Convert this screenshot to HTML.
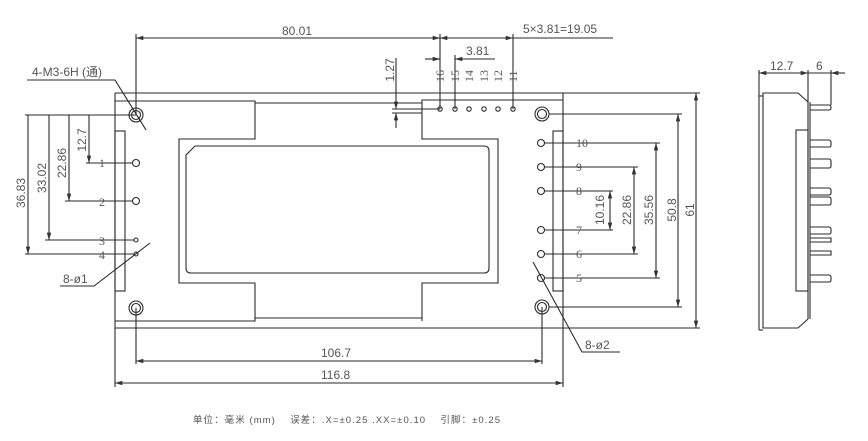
<!DOCTYPE html>
<html><head><meta charset="utf-8"><style>
html,body{margin:0;padding:0;background:#fff;}
svg{display:block;}
text{font-family:"Liberation Sans","Noto Sans CJK SC",sans-serif;fill:#555;}
.s{font-family:"Liberation Serif",serif;fill:#555;}
</style></head><body>
<svg width="868" height="441" viewBox="0 0 868 441" xmlns="http://www.w3.org/2000/svg">
<defs>
<marker id="a" viewBox="0 0 10 6" refX="10" refY="3" markerWidth="7" markerHeight="4" orient="auto-start-reverse"><path d="M0,0 L10,3 L0,6 z" fill="#333"/></marker>
</defs>
<g stroke="#2a2a2a" stroke-width="1.1" fill="none">
<line x1="115" y1="93" x2="563" y2="93"/>
<line x1="115" y1="328" x2="563" y2="328"/>
<line x1="115" y1="93" x2="115" y2="387"/>
<line x1="563" y1="93" x2="563" y2="387"/>
<path d="M115,101 H255 V139 H179 V283 H255 V321 H115"/>
<path d="M422,321 V283 H498 V139 H422 V100 H563"/>
<line x1="255" y1="103" x2="422" y2="103"/>
<line x1="255" y1="318" x2="422" y2="318"/>
<path d="M195,146 H484 Q489,146 489,151 V268 Q489,273 484,273 H191 Q186,273 186,268 V155 Z"/>
<rect x="115" y="131" width="10" height="160"/>
<rect x="553" y="131" width="10" height="160"/>
<circle cx="136" cy="115" r="7"/><circle cx="136" cy="115" r="4.5"/>
<circle cx="136" cy="308" r="7"/><circle cx="136" cy="308" r="4.5"/>
<circle cx="542" cy="114" r="7"/><circle cx="542" cy="114" r="4.5"/>
<circle cx="542" cy="307" r="7"/><circle cx="542" cy="307" r="4.5"/>
<circle cx="136" cy="163" r="3.5"/><circle cx="136" cy="201" r="3.5"/>
<circle cx="136" cy="240" r="2"/><circle cx="136" cy="254" r="2"/>
<line x1="86" y1="163" x2="133" y2="163"/>
<line x1="65" y1="201" x2="133" y2="201"/>
<line x1="45" y1="240" x2="134" y2="240"/>
<line x1="25" y1="254" x2="134" y2="254"/>
<line x1="25" y1="115" x2="136" y2="115"/>
<line x1="89" y1="115" x2="89" y2="163" marker-end="url(#a)"/>
<line x1="69" y1="115" x2="69" y2="201" marker-end="url(#a)"/>
<line x1="49" y1="115" x2="49" y2="240" marker-end="url(#a)"/>
<line x1="28" y1="115" x2="28" y2="254" marker-end="url(#a)"/>
<circle cx="440" cy="109" r="2.2"/><circle cx="455" cy="109" r="2.2"/><circle cx="469" cy="109" r="2.2"/>
<circle cx="484" cy="109" r="2.2"/><circle cx="498" cy="109" r="2.2"/><circle cx="513" cy="109" r="2.2"/>
<line x1="136" y1="34" x2="136" y2="115"/>
<line x1="440" y1="34" x2="440" y2="109"/>
<line x1="455" y1="55" x2="455" y2="109"/>
<line x1="513" y1="34" x2="513" y2="109"/>
<line x1="136" y1="38" x2="440" y2="38" marker-start="url(#a)" marker-end="url(#a)"/>
<line x1="440" y1="38" x2="513" y2="38" marker-start="url(#a)" marker-end="url(#a)"/>
<line x1="513" y1="38" x2="613" y2="38"/>
<line x1="425" y1="59" x2="440" y2="59" marker-end="url(#a)"/>
<line x1="495" y1="59" x2="455" y2="59" marker-end="url(#a)"/>
<line x1="392" y1="109" x2="440" y2="109"/>
<line x1="392" y1="113" x2="422" y2="113"/>
<line x1="396" y1="58" x2="396" y2="109" marker-end="url(#a)"/>
<line x1="396" y1="128" x2="396" y2="113" marker-end="url(#a)"/>
<circle cx="541" cy="143" r="3.5"/><circle cx="541" cy="167" r="3.5"/><circle cx="541" cy="191" r="3.5"/>
<circle cx="541" cy="230" r="3.5"/><circle cx="541" cy="254" r="3.5"/><circle cx="541" cy="278" r="3.5"/>
<line x1="544" y1="143" x2="660" y2="143"/>
<line x1="544" y1="167" x2="638" y2="167"/>
<line x1="544" y1="191" x2="613" y2="191"/>
<line x1="544" y1="230" x2="613" y2="230"/>
<line x1="544" y1="254" x2="638" y2="254"/>
<line x1="544" y1="278" x2="660" y2="278"/>
<line x1="549" y1="114" x2="682" y2="114"/>
<line x1="549" y1="307" x2="682" y2="307"/>
<line x1="563" y1="93" x2="700" y2="93"/>
<line x1="563" y1="328" x2="700" y2="328"/>
<line x1="610" y1="191" x2="610" y2="230" marker-start="url(#a)" marker-end="url(#a)"/>
<line x1="634" y1="167" x2="634" y2="254" marker-start="url(#a)" marker-end="url(#a)"/>
<line x1="656" y1="143" x2="656" y2="278" marker-start="url(#a)" marker-end="url(#a)"/>
<line x1="678" y1="114" x2="678" y2="307" marker-start="url(#a)" marker-end="url(#a)"/>
<line x1="696" y1="93" x2="696" y2="328" marker-start="url(#a)" marker-end="url(#a)"/>
<line x1="136" y1="308" x2="136" y2="364"/>
<line x1="542" y1="307" x2="542" y2="364"/>
<line x1="136" y1="361" x2="542" y2="361" marker-start="url(#a)" marker-end="url(#a)"/>
<line x1="115" y1="383" x2="563" y2="383" marker-start="url(#a)" marker-end="url(#a)"/>
<path d="M27,80 H115 L146,130"/>
<path d="M60,286 H94 L150,243"/>
<path d="M620,352 H582 L533,262"/>
<line x1="759" y1="70" x2="759" y2="330"/>
<path d="M763,93 H798 L808,102 V319 L798,328 H763 Z"/>
<line x1="759" y1="96" x2="763" y2="96"/>
<line x1="759" y1="330" x2="763" y2="330"/>
<line x1="810" y1="102" x2="810" y2="319"/>
<rect x="796" y="130" width="12" height="161"/>
<line x1="808" y1="70" x2="808" y2="102"/>
<line x1="831" y1="70" x2="831" y2="105"/>
<line x1="759" y1="73" x2="808" y2="73" marker-start="url(#a)" marker-end="url(#a)"/>
<line x1="808" y1="73" x2="831" y2="73"/>
<line x1="845" y1="73" x2="831" y2="73" marker-end="url(#a)"/>
<path d="M810,105 H829 Q831,105 831,107.5 Q831,110 829,110 H810"/>
<path d="M810,140 H829 Q831,140 831,142.5 V145 Q831,147 829,147 H810"/>
<path d="M810,159 H829 Q831,159 831,161.5 V166 Q831,168 829,168 H810"/>
<path d="M810,188 H829 Q831,188 831,190.5 V193 Q831,195 829,195 H810"/>
<path d="M810,197 H829 Q831,197 831,199.5 V203 Q831,205 829,205 H810"/>
<path d="M810,227 H829 Q831,227 831,229.5 V232 Q831,234 829,234 H810"/>
<path d="M810,238 H831 V242 H810"/>
<path d="M810,251 H831 V255 H810"/>
<path d="M810,275 H829 Q831,275 831,277.5 V280 Q831,282 829,282 H810"/>
</g>
<g font-size="12">
<text x="282" y="35">80.01</text>
<text x="523" y="33">5×3.81=19.05</text>
<text x="466" y="55">3.81</text>
<text x="32" y="76">4-M3-6H (通)</text>
<text x="63" y="283">8-ø1</text>
<text x="585" y="349">8-ø2</text>
<text x="321" y="357">106.7</text>
<text x="321" y="379">116.8</text>
<text x="770" y="70">12.7</text>
<text x="816" y="70">6</text>
<text transform="translate(394,70) rotate(-90)" text-anchor="middle">1.27</text>
<text transform="translate(86,140) rotate(-90)" text-anchor="middle">12.7</text>
<text transform="translate(66,163) rotate(-90)" text-anchor="middle">22.86</text>
<text transform="translate(46,178) rotate(-90)" text-anchor="middle">33.02</text>
<text transform="translate(25,193) rotate(-90)" text-anchor="middle">36.83</text>
<text transform="translate(604,210) rotate(-90)" text-anchor="middle">10.16</text>
<text transform="translate(631,210) rotate(-90)" text-anchor="middle">22.86</text>
<text transform="translate(653,210) rotate(-90)" text-anchor="middle">35.56</text>
<text transform="translate(676,210) rotate(-90)" text-anchor="middle">50.8</text>
<text transform="translate(694,210) rotate(-90)" text-anchor="middle">61</text>
</g>
<g font-size="12">
<text class="s" x="99" y="167">1</text>
<text class="s" x="99" y="206">2</text>
<text class="s" x="99" y="245">3</text>
<text class="s" x="99" y="259">4</text>
<text class="s" x="576" y="147">10</text>
<text class="s" x="576" y="171">9</text>
<text class="s" x="576" y="195">8</text>
<text class="s" x="576" y="234">7</text>
<text class="s" x="576" y="258">6</text>
<text class="s" x="576" y="282">5</text>
<text class="s" transform="translate(444,82) rotate(-90)">16</text>
<text class="s" transform="translate(459,82) rotate(-90)">15</text>
<text class="s" transform="translate(473,82) rotate(-90)">14</text>
<text class="s" transform="translate(488,82) rotate(-90)">13</text>
<text class="s" transform="translate(502,82) rotate(-90)">12</text>
<text class="s" transform="translate(517,82) rotate(-90)">11</text>
</g>
<text x="193" y="423" font-size="9.5" textLength="307" lengthAdjust="spacing">单位：毫米 (mm)　 误差：.X=±0.25 .XX=±0.10 　引脚：±0.25</text>
</svg>
</body></html>
